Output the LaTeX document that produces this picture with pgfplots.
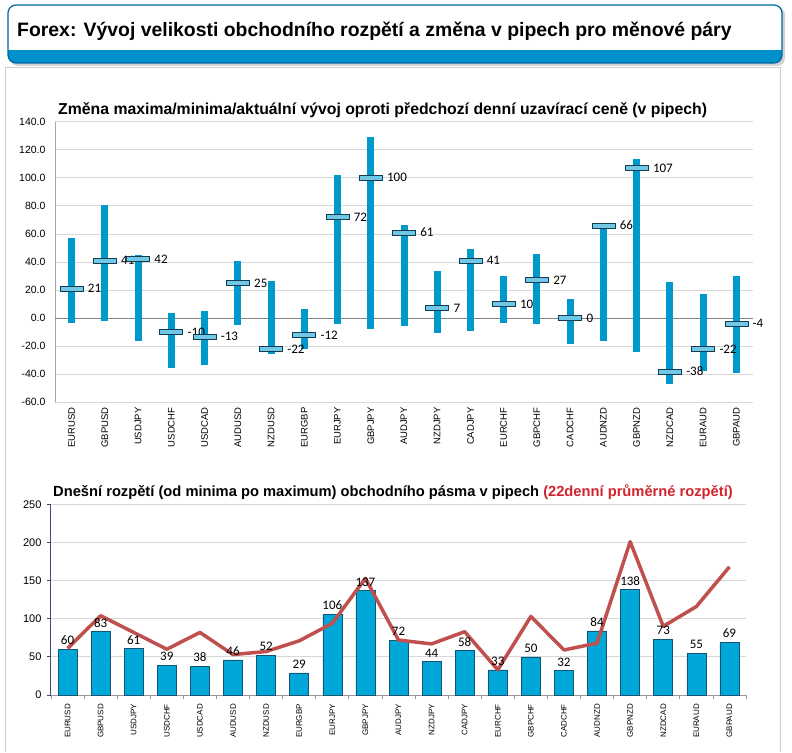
\documentclass[border=0pt]{standalone}
\usepackage{fontspec}
\setmainfont{Liberation Sans}
\newfontfamily\calib{Carlito}
\usepackage{pgfplots}
\pgfplotsset{compat=1.18}
\usepackage{pgfplotstable}

\definecolor{barblue}{RGB}{0,153,204}
\definecolor{barbody}{RGB}{0,168,218}
\definecolor{bardark}{RGB}{20,85,115}
\definecolor{markcyan}{RGB}{110,200,230}
\definecolor{markdark}{RGB}{20,60,80}
\definecolor{hdrblue}{RGB}{0,145,205}
\definecolor{hdrborder}{RGB}{0,100,160}
\definecolor{avgred}{RGB}{192,80,77}
\definecolor{titred}{RGB}{210,35,45}
\definecolor{gridgrey}{RGB}{215,215,215}
\definecolor{panelgrey}{RGB}{205,205,205}
\definecolor{axisnavy}{RGB}{60,75,105}

\pgfdeclareplotmark{closebar}{%
  \pgfpathrectangle{\pgfpoint{-11.5pt}{-2.5pt}}{\pgfpoint{23pt}{5pt}}%
  \pgfusepathqfillstroke}

\pgfplotstableread{
x low high close
0 -3.3 57.0 21
1 -1.9 80.3 41
2 -16.2 44.9 42
3 -35.4 3.6 -10
4 -33.5 5.0 -13
5 -4.8 40.6 25
6 -25.7 26.4 -22
7 -21.9 6.4 -12
8 -4.0 101.9 72
9 -7.8 129.2 100
10 -5.7 66.3 61
11 -10.7 33.5 7
12 -9.3 49.2 41
13 -3.3 29.9 10
14 -4.3 45.6 27
15 -18.5 13.5 0
16 -16.2 66.0 66
17 -24.0 113.3 107
18 -47.0 25.7 -38
19 -37.8 17.3 -22
20 -39.2 30.2 -4
}\rangedata

\pgfplotstableread{
x range avg
0 60 61
1 83 104
2 61 82
3 39 60
4 38 82
5 46 53
6 52 57
7 29 71
8 106 94
9 137 153
10 72 72
11 44 67
12 58 83
13 33 33
14 50 103
15 32 59
16 84 68
17 138 201
18 73 90
19 55 116
20 69 168
}\spreaddata

\begin{document}
\begin{tikzpicture}[x=1pt,y=1pt]
\path[fill=white] (0,0) rectangle (792,752);
% panel
\draw[panelgrey, line width=1pt] (5,0) -- (5,684) -- (780,684) -- (780,0);
% header
\fill[gray!35] (10,686) [rounded corners=8pt] rectangle (785,745);
\begin{scope}
\clip[rounded corners=8pt] (8,689) rectangle (782,747);
\fill[white] (8,689) rectangle (782,747);
\fill[hdrblue] (8,689) rectangle (782,702);
\end{scope}
\draw[hdrborder, line width=1.2pt, rounded corners=8pt] (8,689) rectangle (782,747);
\node[anchor=base west, inner sep=0pt, font=\bfseries\fontsize{19.4}{22}\selectfont] at (17,715) {Forex: Vývoj velikosti obchodního rozpětí a změna v pipech pro měnové páry};

% top chart title
\node[anchor=base west, inner sep=0pt, font=\bfseries\fontsize{15.8}{18}\selectfont] at (58,637) {Změna maxima/minima/aktuální vývoj oproti předchozí denní uzavírací ceně (v pipech)};

\begin{axis}[
  at={(55pt,349.7pt)}, anchor=south west,
  width=698pt, height=280.6pt, scale only axis,
  xmin=-0.5, xmax=20.5, ymin=-60, ymax=140,
  ytick={-60,-40,...,140},
  xtick={0,...,20},
  xticklabels={EURUSD,GBPUSD,USDJPY,USDCHF,USDCAD,AUDUSD,NZDUSD,EURGBP,EURJPY,GBPJPY,AUDJPY,NZDJPY,CADJPY,EURCHF,GBPCHF,CADCHF,AUDNZD,GBPNZD,NZDCAD,EURAUD,GBPAUD},
  x tick label style={rotate=90, anchor=east, font=\fontsize{9.5}{10}\selectfont, inner sep=1pt},
  y tick label style={font=\fontsize{10.5}{11}\selectfont, /pgf/number format/.cd, fixed, fixed zerofill, precision=1, assume math mode=true},
  ymajorgrids, grid style={gridgrey, line width=0.8pt},
  axis x line*=bottom,
  axis y line*=left,
  x axis line style={gridgrey, line width=0.8pt},
  y axis line style={gray!70, line width=0.8pt},
  major tick length=0pt,
  yticklabel shift=6pt,
  xticklabel shift=4pt,
  clip=false,
]
\addplot[gray, line width=0.9pt, forget plot] coordinates {(-0.5,0) (20.5,0)};
\addplot[only marks, mark=closebar, mark options={fill=markcyan, draw=markdark, line width=0.7pt},
  error bars/.cd, y dir=both, y explicit, error mark=none,
  error bar style={barblue, line width=7pt}]
  table[x=x, y=close, y error plus expr=\thisrow{high}-\thisrow{close}, y error minus expr=\thisrow{close}-\thisrow{low}] {\rangedata};
\addplot[only marks, mark=closebar, mark options={fill=markcyan, draw=markdark, line width=0.7pt},
  nodes near coords, point meta=explicit symbolic,
  nodes near coords style={anchor=west, xshift=15pt, inner sep=1pt, font=\calib\fontsize{13}{14}\selectfont, text=black}]
  table[x=x, y=close, meta=close] {\rangedata};
\end{axis}

% bottom chart title
\node[anchor=base west, inner sep=0pt, font=\bfseries\fontsize{14.7}{17}\selectfont] at (53,255) {Dnešní rozpětí (od minima po maximum) obchodního pásma v pipech \textcolor{titred}{(22denní průměrné rozpětí)}};

\begin{axis}[
  at={(51pt,57pt)}, anchor=south west,
  width=695pt, height=190.7pt, scale only axis,
  xmin=-0.5, xmax=20.5, ymin=0, ymax=250,
  ytick={0,50,...,250},
  xtick={0,...,20},
  minor xtick={-0.5,0.5,...,20.5},
  xticklabels={EURUSD,GBPUSD,USDJPY,USDCHF,USDCAD,AUDUSD,NZDUSD,EURGBP,EURJPY,GBPJPY,AUDJPY,NZDJPY,CADJPY,EURCHF,GBPCHF,CADCHF,AUDNZD,GBPNZD,NZDCAD,EURAUD,GBPAUD},
  x tick label style={rotate=90, anchor=east, font=\fontsize{8}{9}\selectfont, inner sep=1pt},
  y tick label style={font=\fontsize{11}{12}\selectfont, /pgf/number format/assume math mode=true},
  ymajorgrids, grid style={gridgrey, line width=0.8pt},
  axis x line*=bottom,
  axis y line*=left,
  x axis line style={gray!80, line width=0.8pt},
  y axis line style={axisnavy, line width=1pt},
  tick align=outside,
  major x tick style={draw=none},
  minor x tick style={gray!80, line width=0.8pt},
  minor tick length=4pt,
  major y tick style={axisnavy, line width=0.8pt},
  major tick length=4pt,
  xticklabel shift=4pt,
  yticklabel shift=2pt,
  clip=false,
]
\addplot[ybar, bar width=19pt, bar shift=0pt, fill=barbody, draw=bardark, line width=0.6pt,
  nodes near coords, point meta=explicit symbolic,
  nodes near coords style={anchor=south, inner sep=4pt, font=\calib\fontsize{13}{14}\selectfont, text=black}]
  table[x=x, y=range, meta=range] {\spreaddata};
\addplot[avgred, line width=3.5pt, mark=none, line join=round] table[x=x, y=avg] {\spreaddata};
\end{axis}
\end{tikzpicture}
\end{document}
